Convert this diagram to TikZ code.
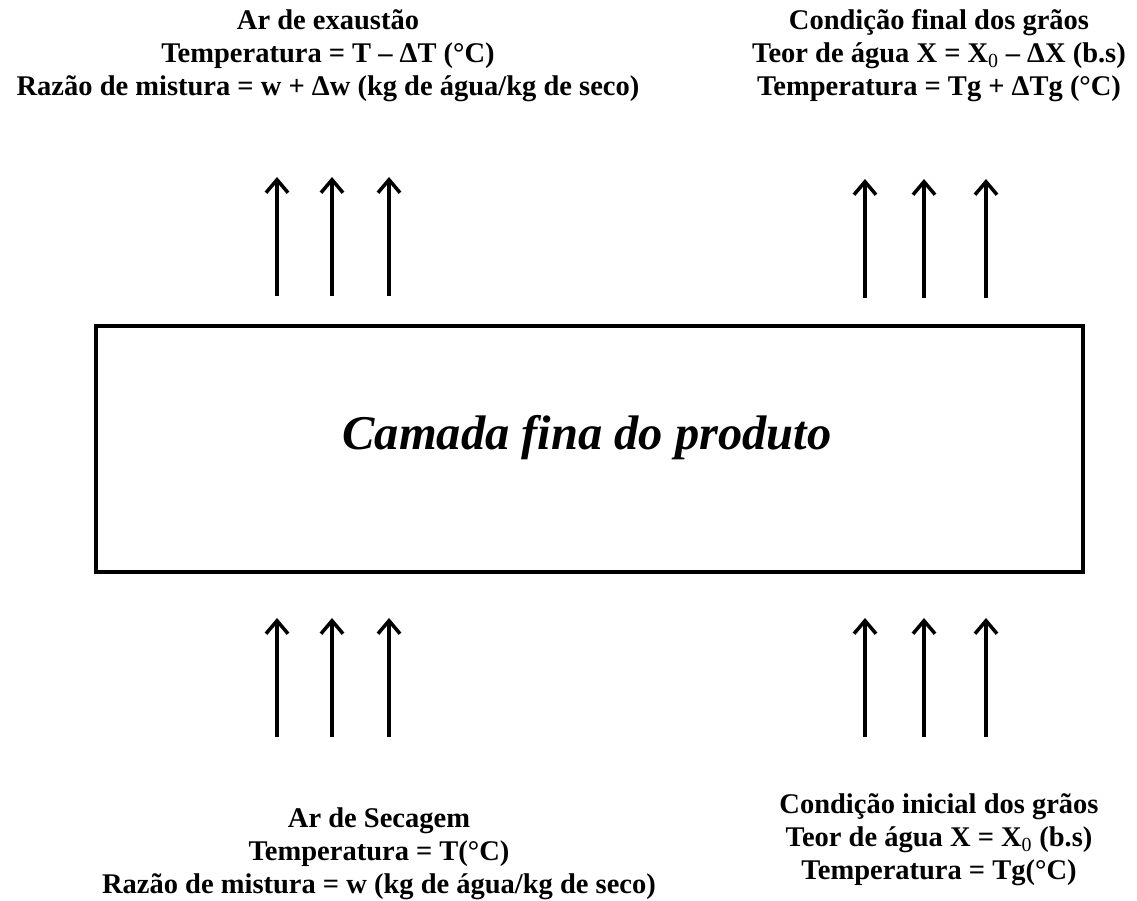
\documentclass[tikz,border=0pt]{standalone}
\usepackage{fontspec}
\setmainfont{Liberation Serif}
\usetikzlibrary{arrows.meta}
\begin{document}
\begin{tikzpicture}[x=1pt, y=-1pt,
        info/.style={font=\bfseries\fontsize{28.5}{33}\selectfont, align=center, inner sep=0pt},
        layerbox/.style={draw, line width=4pt, minimum width=987pt, minimum height=246pt, inner sep=0pt},
        flow/.style={line width=3.5pt, -{Straight Barb[length=13pt, width=22pt, line width=3.5pt]}}]
    \useasboundingbox (0,0) rectangle (1137,901);

    % camada
    \node[layerbox] (layer) at (589.5,449) {};
    \node[font=\bfseries\itshape\fontsize{48.5}{52}\selectfont, inner sep=0pt] (prod) at (587,438)
        {Camada fina do produto};

    % saida
    \node[info] (exaust) at (328,56)
        {Ar de exaustão\\Temperatura = T – ΔT (°C)\\Razão de mistura = w + Δw (kg de água/kg de seco)};
    \node[info] (final) at (939,56)
        {Condição final dos grãos\\Teor de água X = X\textsubscript{\mdseries 0} – ΔX (b.s)\\Temperatura = Tg + ΔTg (°C)};

    % entrada
    \node[info] (secagem) at (379,854)
        {Ar de Secagem\\Temperatura = T(°C)\\Razão de mistura = w (kg de água/kg de seco)};
    \node[info] (inicial) at (939,840)
        {Condição inicial dos grãos\\Teor de água X = X\textsubscript{\mdseries 0} (b.s)\\Temperatura = Tg(°C)};

    % setas
    \foreach \x [count=\i] in {277,332,389} {
        \coordinate (ul\i) at (\x,296);
        \coordinate (ut\i) at (\x,177);
        \draw[flow] (ul\i) -- (ut\i);
        \coordinate (bl\i) at (\x,737);
        \coordinate (bt\i) at (\x,618);
        \draw[flow] (bl\i) -- (bt\i);
    }
    \foreach \x [count=\i] in {865,924,986} {
        \coordinate (ur\i) at (\x,298);
        \coordinate (urt\i) at (\x,179);
        \draw[flow] (ur\i) -- (urt\i);
        \coordinate (br\i) at (\x,737);
        \coordinate (brt\i) at (\x,618);
        \draw[flow] (br\i) -- (brt\i);
    }
\end{tikzpicture}
\end{document}
